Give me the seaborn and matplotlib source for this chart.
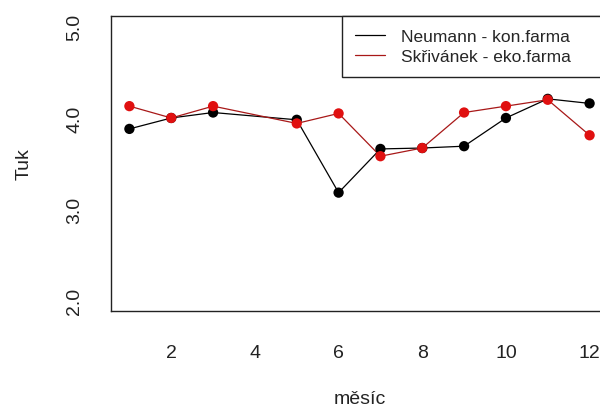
import matplotlib
matplotlib.use("Agg")
import matplotlib.pyplot as plt
import seaborn as sns
import pandas as pd

months = [1, 2, 3, 5, 6, 7, 8, 9, 10, 11, 12]
neumann = [3.88, 4.00, 4.06, 3.98, 3.18, 3.66, 3.67, 3.69, 4.00, 4.21, 4.16]
skrivanek = [4.13, 4.00, 4.13, 3.94, 4.05, 3.58, 3.67, 4.06, 4.13, 4.20, 3.81]
series_names = ["Neumann - kon.farma", "Skřivánek - eko.farma"]
y_ticks = [2.0, 2.5, 3.0, 3.5, 4.0, 4.5, 5.0]
y_labels = ["2.0", "", "3.0", "", "4.0", "", "5.0"]
x_ticks = [2, 4, 6, 8, 10, 12]

df = pd.DataFrame({
    "měsíc": months * 2,
    "Tuk": neumann + skrivanek,
    "farma": [series_names[0]] * len(months) + [series_names[1]] * len(months),
})

sns.set_style("white")
plt.rcParams["font.family"] = ["Liberation Sans", "DejaVu Sans"]

fig = plt.figure(figsize=(6, 4.14), dpi=100)
ax_left, ax_right, ax_top, ax_bot = 111, 608, 17, 312
ax = fig.add_axes([ax_left / 600, 1 - ax_bot / 414, (ax_right - ax_left) / 600, (ax_bot - ax_top) / 414])

line_cols = {series_names[0]: "#000000", series_names[1]: "#A81818"}
pt_cols = {series_names[0]: "#000000", series_names[1]: "#E01010"}

sns.lineplot(data=df, x="měsíc", y="Tuk", hue="farma", palette=line_cols,
             linewidth=0.9, ax=ax, legend=True, sort=False)
sns.scatterplot(data=df, x="měsíc", y="Tuk", hue="farma", palette=pt_cols,
                s=55, linewidth=0, ax=ax, legend=False, zorder=3)

ax.set_xlim(0.56, 12.44)
ax.set_ylim(1.88, 5.12)
ax.set_xticks(x_ticks)
ax.set_xticklabels([str(t) for t in x_ticks], fontsize=14, color="#222222")
ax.set_yticks(y_ticks)
ax.set_yticklabels(y_labels, fontsize=14, rotation=90, va="center", color="#222222")
ax.tick_params(axis="both", direction="out", length=8.5, width=1, color="#222222")
ax.tick_params(axis="x", pad=15.5)
ax.tick_params(axis="y", pad=11.5)
for s in ax.spines.values():
    s.set_visible(True)
    s.set_color("#222222")
    s.set_linewidth(1.0)

ax.set_xlabel("měsíc", fontsize=14, color="#222222", labelpad=21)
ax.set_ylabel("Tuk", fontsize=14, color="#222222", labelpad=24)

x0 = (342 - ax_left) / (ax_right - ax_left)
leg = ax.legend(loc="upper left", bbox_to_anchor=(x0, 0, 1 - x0, 1.0), mode="expand",
                frameon=True, fancybox=False, fontsize=12.5, borderaxespad=0,
                handlelength=1.75, handletextpad=0.9, borderpad=0.75,
                labelspacing=0.25, title=None)
leg.get_frame().set_edgecolor("#222222")
leg.get_frame().set_linewidth(1.0)
leg.get_frame().set_alpha(1)

fig.savefig("out.png", dpi=100)
